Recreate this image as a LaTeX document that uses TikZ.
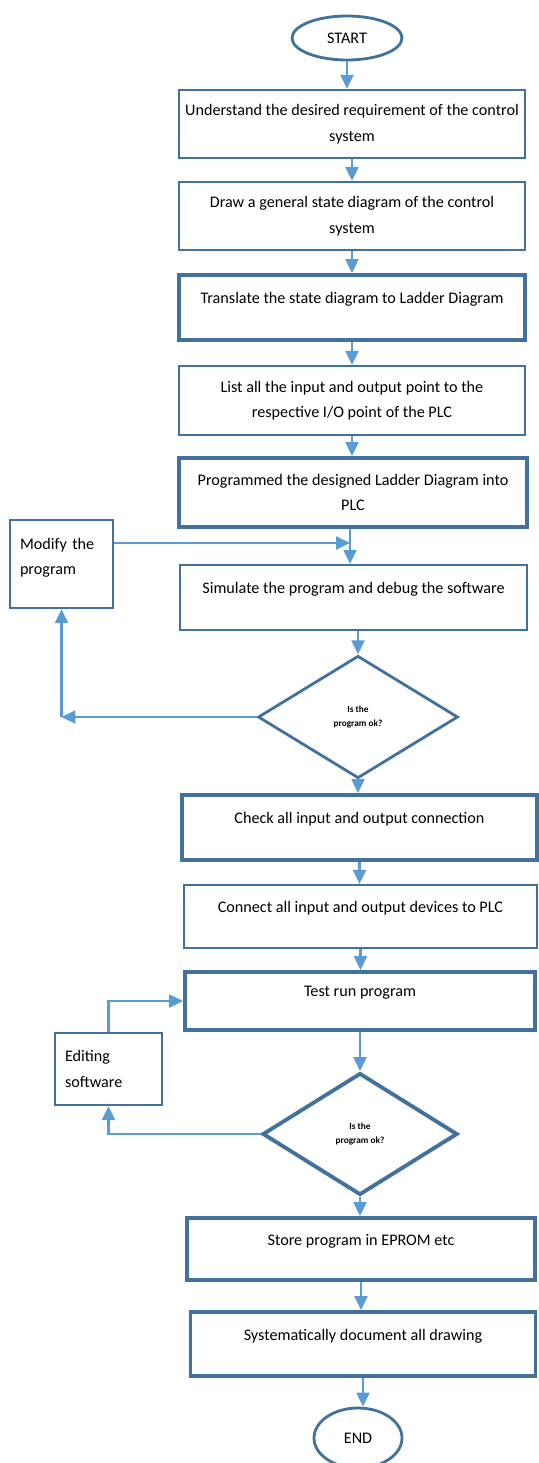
\documentclass[tikz,border=0pt]{standalone}
\usepackage{fontspec}
\setmainfont{Carlito}
\usetikzlibrary{arrows.meta, shapes.geometric}
\definecolor{bdblue}{HTML}{41719C}
\definecolor{arblue}{HTML}{5B9BD5}

\begin{document}
\begin{tikzpicture}[
  x=0.02cm, y=-0.02cm,
  >={Triangle[length=2.8mm, width=2.6mm]},
  box/.style={draw=bdblue, line width=1.3pt, rectangle, minimum width=6.92cm,
    minimum height=1.36cm, align=center, inner sep=2pt,
    font=\fontsize{9.2}{14.5}\selectfont},
  tbox/.style={box, line width=2.2pt},
  side/.style={box, align=left, minimum width=#1, text width=#1-0.4cm},
  term/.style={draw=bdblue, line width=1.6pt, ellipse, inner sep=0pt,
    font=\fontsize{9.2}{10}\selectfont},
  ask/.style={draw=bdblue, line width=1.6pt, diamond, inner sep=0pt,
    minimum width=4cm, minimum height=2.45cm, align=center,
    font=\fontsize{5.3}{7.5}\selectfont\bfseries},
  arr/.style={->, line width=1.2pt, arblue},
]

\useasboundingbox (0,0) rectangle (538,1463);

% === Main column ===
\node[term, minimum width=2.2cm, minimum height=0.88cm] (start) at (347,38) {START};
\node[box] (b1) at (352,124)
  {Understand the desired requirement of the control\\system};
\node[box] (b2) at (352,216)
  {Draw a general state diagram of the control\\system};
\node[tbox, minimum height=1.3cm] (b3) at (352,307.5)
  {Translate the state diagram to Ladder Diagram\\[-4pt]\mbox{}};
\node[box, minimum height=1.38cm] (b4) at (352,400.5)
  {List all the input and output point to the\\respective I/O point of the PLC};
\node[tbox, minimum width=6.96cm, minimum height=1.38cm] (b5) at (353,492.5)
  {Programmed the designed Ladder Diagram into\\PLC};
\node[box, minimum width=6.94cm, minimum height=1.3cm] (b6) at (353.5,597.5)
  {Simulate the program and debug the software\\[-4pt]\mbox{}};
\node[ask] (d1) at (358,717) {Is the\\program ok?};
\node[tbox, minimum width=7.1cm, minimum height=1.3cm] (b7) at (359.5,827.5)
  {Check all input and output connection\\[-4pt]\mbox{}};
\node[box, minimum width=7.06cm, minimum height=1.26cm] (b8) at (360.5,916.5)
  {Connect all input and output devices to PLC\\[-4pt]\mbox{}};
\node[tbox, minimum width=7cm, minimum height=1.16cm] (b9) at (360,1001)
  {Test run program\\[-4pt]\mbox{}};
\node[ask, line width=2.2pt, minimum width=3.9cm, minimum height=2.44cm] (d2) at (360,1134)
  {Is the\\program ok?};
\node[tbox, minimum width=6.96cm, minimum height=1.24cm] (b10) at (361,1249)
  {Store program in EPROM etc\\[-4pt]\mbox{}};
\node[tbox, minimum width=6.9cm, minimum height=1.28cm] (b11) at (363,1344)
  {Systematically document all drawing\\[-4pt]\mbox{}};
\node[term, minimum width=1.76cm, minimum height=1.2cm] (end) at (358,1438) {END};

% === Side boxes ===
\node[side=2.06cm, minimum height=1.76cm] (modify) at (61.5,564)
  {Modify the\\program\\[-6pt]\mbox{}};
\node[side=2.14cm, minimum height=1.44cm] (edit) at (108.5,1069)
  {Editing\\software};

% === Arrows down the column ===
\coordinate (join) at (350,543);
\draw[arr] (start.south) -- (start.south |- b1.north);
\draw[arr] (b1.south) -- (b1.south |- b2.north);
\draw[arr] (b2.south) -- (b2.south |- b3.north);
\draw[arr] (b3.south) -- (b3.south |- b4.north);
\draw[arr] (b4.south) -- (b4.south |- b5.north);
\draw[arr] (b5.south -| join) -- (b6.north -| join);
\draw[arr] (b6.south -| d1.north) -- (d1.north);
\draw[arr] (d1.south) -- (d1.south |- b7.north);
\draw[arr] (b7.south) -- (b7.south |- b8.north);
\draw[arr] (b8.south) -- (b8.south |- b9.north);
\draw[arr] (b9.south -| d2.north) -- (d2.north);
\draw[arr] (d2.south) -- (d2.south |- b10.north);
\draw[arr] (b10.south) -- (b10.south |- b11.north);
\draw[arr] (b11.south) -- (b11.south |- end.north);

% === Loop back: first check ===
\draw[arr] (d1.west) -- (d1.west -| modify.south);
\draw[arr] (d1.west -| modify.south) -- (modify.south);
\draw[arr] (modify.east |- join) -- (join);

% === Loop back: test run ===
\draw[arr] (d2.west) -| (edit.south);
\draw[arr] (edit.north) |- (b9.west);

\end{tikzpicture}
\end{document}
